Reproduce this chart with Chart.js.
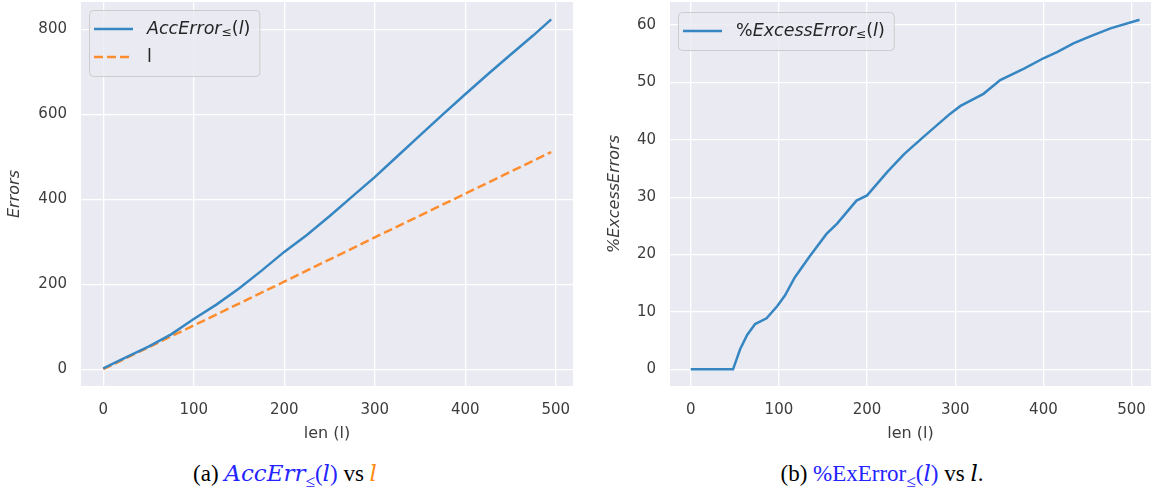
<!DOCTYPE html>
<html>
<head>
<meta charset="utf-8">
<script src="https://cdn.jsdelivr.net/npm/chart.js@4.4.1/dist/chart.umd.min.js"></script>
<style>
body { margin: 0; background: #fff; width: 1157px; height: 495px; position: relative; overflow: hidden; }
.box { position: absolute; top: 0; height: 443px; }
#boxA { left: 0; width: 580px; }
#boxB { left: 600px; width: 557px; }
.cap { position: absolute; top: 462px; font-family: "Liberation Serif", serif; font-size: 23px; color: #000; text-align: center; white-space: nowrap; line-height: 1; }
#capA { left: 0; width: 570px; }
#capB { left: 682px; width: 400px; }
.m { font-family: "DejaVu Serif", serif; font-style: italic; }
.blue { color: #2424ff; }
.orange { color: #ff8a14; }
sub { font-size: 0.75em; vertical-align: -0.35em; }
</style>
</head>
<body>
<div class="box" id="boxA"><canvas id="chartA"></canvas></div>
<div class="box" id="boxB"><canvas id="chartB"></canvas></div>
<div class="cap" id="capA">(a) <span class="blue"><span class="m">AccErr</span><sub>≤</sub>(<span class="m">l</span>)</span> vs <span class="m orange">l</span></div>
<div class="cap" id="capB">(b) <span class="blue">%ExError<sub>≤</sub>(<span class="m">l</span>)</span> vs <span class="m">l</span>.</div>

<script>
// panel (a): accumulated errors vs length
const lenA = [0, 25, 50, 75, 100, 125, 150, 175, 200, 225, 250, 275, 300, 325, 350, 375, 400, 425, 450, 475, 495];
const accErr = [2, 28, 53, 82, 118, 152, 190, 232, 276, 316, 360, 406, 452, 501, 550, 599, 647, 694, 740, 785, 823];
const lenLine = [0, 100, 200, 300, 400, 495];
const lVals = [0, 103, 206, 310, 413, 511];

// panel (b): % excess errors vs length
const lenB = [0, 48, 56, 64, 73, 86, 98, 107, 118, 135, 154, 166, 188, 200, 223, 242, 264, 294, 306, 332, 351, 378, 400, 416, 434, 453, 476, 509];
const excessErr = [0, 0, 3.5, 6, 7.9, 8.9, 11, 12.9, 16, 19.7, 23.6, 25.4, 29.4, 30.3, 34.4, 37.5, 40.5, 44.5, 45.9, 48, 50.4, 52.4, 54.2, 55.3, 56.8, 58, 59.4, 60.9];

const xTicks = [0, 100, 200, 300, 400, 500];
const yTicksA = [0, 200, 400, 600, 800];
const yTicksB = [0, 10, 20, 30, 40, 50, 60];

const BLUE = '#3686c2';
const ORANGE = '#fd8d2e';
const TICK_COLOR = '#3d3d3d';

// seaborn-ish grey plot background
const plotBg = {
    id: 'plotBg',
    beforeDraw(chart) {
        const { ctx, chartArea: a } = chart;
        ctx.save();
        ctx.fillStyle = '#eaeaf2';
        ctx.fillRect(a.left, a.top, a.right - a.left, a.bottom - a.top);
        ctx.restore();
    }
};

// legend drawn inside the axes, with mathtext-like labels
const mathLegend = {
    id: 'mathLegend',
    afterDatasetsDraw(chart, args, opts) {
        const { ctx, chartArea } = chart;
        const size = opts.size;
        const fontFor = (p) => (p.italic ? 'italic ' : '') + (p.sub ? size * 0.7 : size) + 'px "DejaVu Sans"';
        ctx.save();
        let textW = 0;
        opts.items.forEach(item => {
            let w = 0;
            item.parts.forEach(p => { ctx.font = fontFor(p); w += ctx.measureText(p.t).width; });
            textW = Math.max(textW, w);
        });
        const x0 = chartArea.left + opts.x;
        const y0 = chartArea.top + opts.y;
        const rowH = 28, padT = 5, padL = 5, lineLen = 39, gap = 14, padR = 9;
        const bw = padL + lineLen + gap + textW + padR;
        const bh = padT * 2 + rowH * opts.items.length;

        ctx.beginPath();
        ctx.roundRect(x0 + 0.5, y0 + 0.5, bw, bh, 4);
        ctx.fillStyle = 'rgba(234,234,242,0.8)';
        ctx.fill();
        ctx.strokeStyle = '#cccccc';
        ctx.lineWidth = 1;
        ctx.stroke();

        opts.items.forEach((item, i) => {
            const cy = y0 + padT + rowH * i + rowH / 2;
            ctx.beginPath();
            ctx.setLineDash(item.dash || []);
            ctx.strokeStyle = item.color;
            ctx.lineWidth = 2.5;
            ctx.moveTo(x0 + padL, cy);
            ctx.lineTo(x0 + padL + lineLen, cy);
            ctx.stroke();
            ctx.setLineDash([]);
            let tx = x0 + padL + lineLen + gap;
            ctx.fillStyle = '#262626';
            ctx.textBaseline = 'middle';
            item.parts.forEach(p => {
                ctx.font = fontFor(p);
                ctx.fillText(p.t, tx, p.sub ? cy + 4 : cy);
                tx += ctx.measureText(p.t).width;
            });
        });
        ctx.restore();
    }
};

function noPad(s) {
    s.paddingTop = 0; s.paddingBottom = 0; s.paddingLeft = 0; s.paddingRight = 0;
}

function makeChart(id, datasets, o) {
    return new Chart(document.getElementById(id), {
        type: 'line',
        data: { datasets },
        plugins: [plotBg, mathLegend],
        options: {
            responsive: true,
            maintainAspectRatio: false,
            animation: false,
            layout: { padding: { top: 2, right: o.padRight, left: 0, bottom: 0 } },
            elements: { point: { radius: 0 }, line: { tension: 0, borderWidth: 2.5 } },
            plugins: {
                legend: { display: false },
                tooltip: { enabled: false },
                mathLegend: o.legend
            },
            scales: {
                x: {
                    type: 'linear',
                    min: o.xMin, max: o.xMax,
                    afterBuildTicks: s => { s.ticks = xTicks.map(v => ({ value: v })); },
                    afterFit: s => { s.height = 57; noPad(s); },
                    grid: { color: '#ffffff', lineWidth: 1.3, drawTicks: false },
                    border: { display: false },
                    ticks: { color: TICK_COLOR, font: { family: 'DejaVu Sans', size: 15 }, padding: 15, maxRotation: 0 },
                    title: { display: true, text: 'len (l)', color: TICK_COLOR, font: { family: 'DejaVu Sans', size: 16 }, padding: { top: 0, bottom: 0 } }
                },
                y: {
                    type: 'linear',
                    min: o.yMin, max: o.yMax,
                    afterBuildTicks: s => { s.ticks = o.yTicks.map(v => ({ value: v })); },
                    afterFit: s => { s.width = o.yWidth; noPad(s); },
                    grid: { color: '#ffffff', lineWidth: 1.3, drawTicks: false },
                    border: { display: false },
                    ticks: { color: TICK_COLOR, font: { family: 'DejaVu Sans', size: 15 }, padding: 14 },
                    title: { display: true, text: o.yTitle, color: TICK_COLOR, font: { family: 'DejaVu Sans', size: 16, style: 'italic' }, padding: { top: 5, bottom: 0 } }
                }
            }
        }
    });
}

makeChart('chartA', [
    { label: 'AccError', data: lenA.map((x, i) => ({ x, y: accErr[i] })), borderColor: BLUE },
    { label: 'l', data: lenLine.map((x, i) => ({ x, y: lVals[i] })), borderColor: ORANGE, borderDash: [9, 4] }
], {
    padRight: 7, xMin: -24.6, xMax: 519.1, yMin: -39.5, yMax: 864, yTicks: yTicksA, yWidth: 81, yTitle: 'Errors',
    legend: {
        x: 8, y: 8, size: 17.5,
        items: [
            { color: BLUE, parts: [{ t: 'AccError', italic: true }, { t: '≤', sub: true }, { t: '(', italic: false }, { t: 'l', italic: true }, { t: ')' }] },
            { color: ORANGE, dash: [9, 4], parts: [{ t: 'l' }] }
        ]
    }
});

makeChart('chartB', [
    { label: 'ExcessError', data: lenB.map((x, i) => ({ x, y: excessErr[i] })), borderColor: BLUE }
], {
    padRight: 6, xMin: -23.5, xMax: 522, yMin: -2.9, yMax: 64.0, yTicks: yTicksB, yWidth: 70, yTitle: '%ExcessErrors',
    legend: {
        x: 8, y: 10, size: 17.5,
        items: [
            { color: BLUE, parts: [{ t: '%' }, { t: 'ExcessError', italic: true }, { t: '≤', sub: true }, { t: '(' }, { t: 'l', italic: true }, { t: ')' }] }
        ]
    }
});
</script>
</body>
</html>
